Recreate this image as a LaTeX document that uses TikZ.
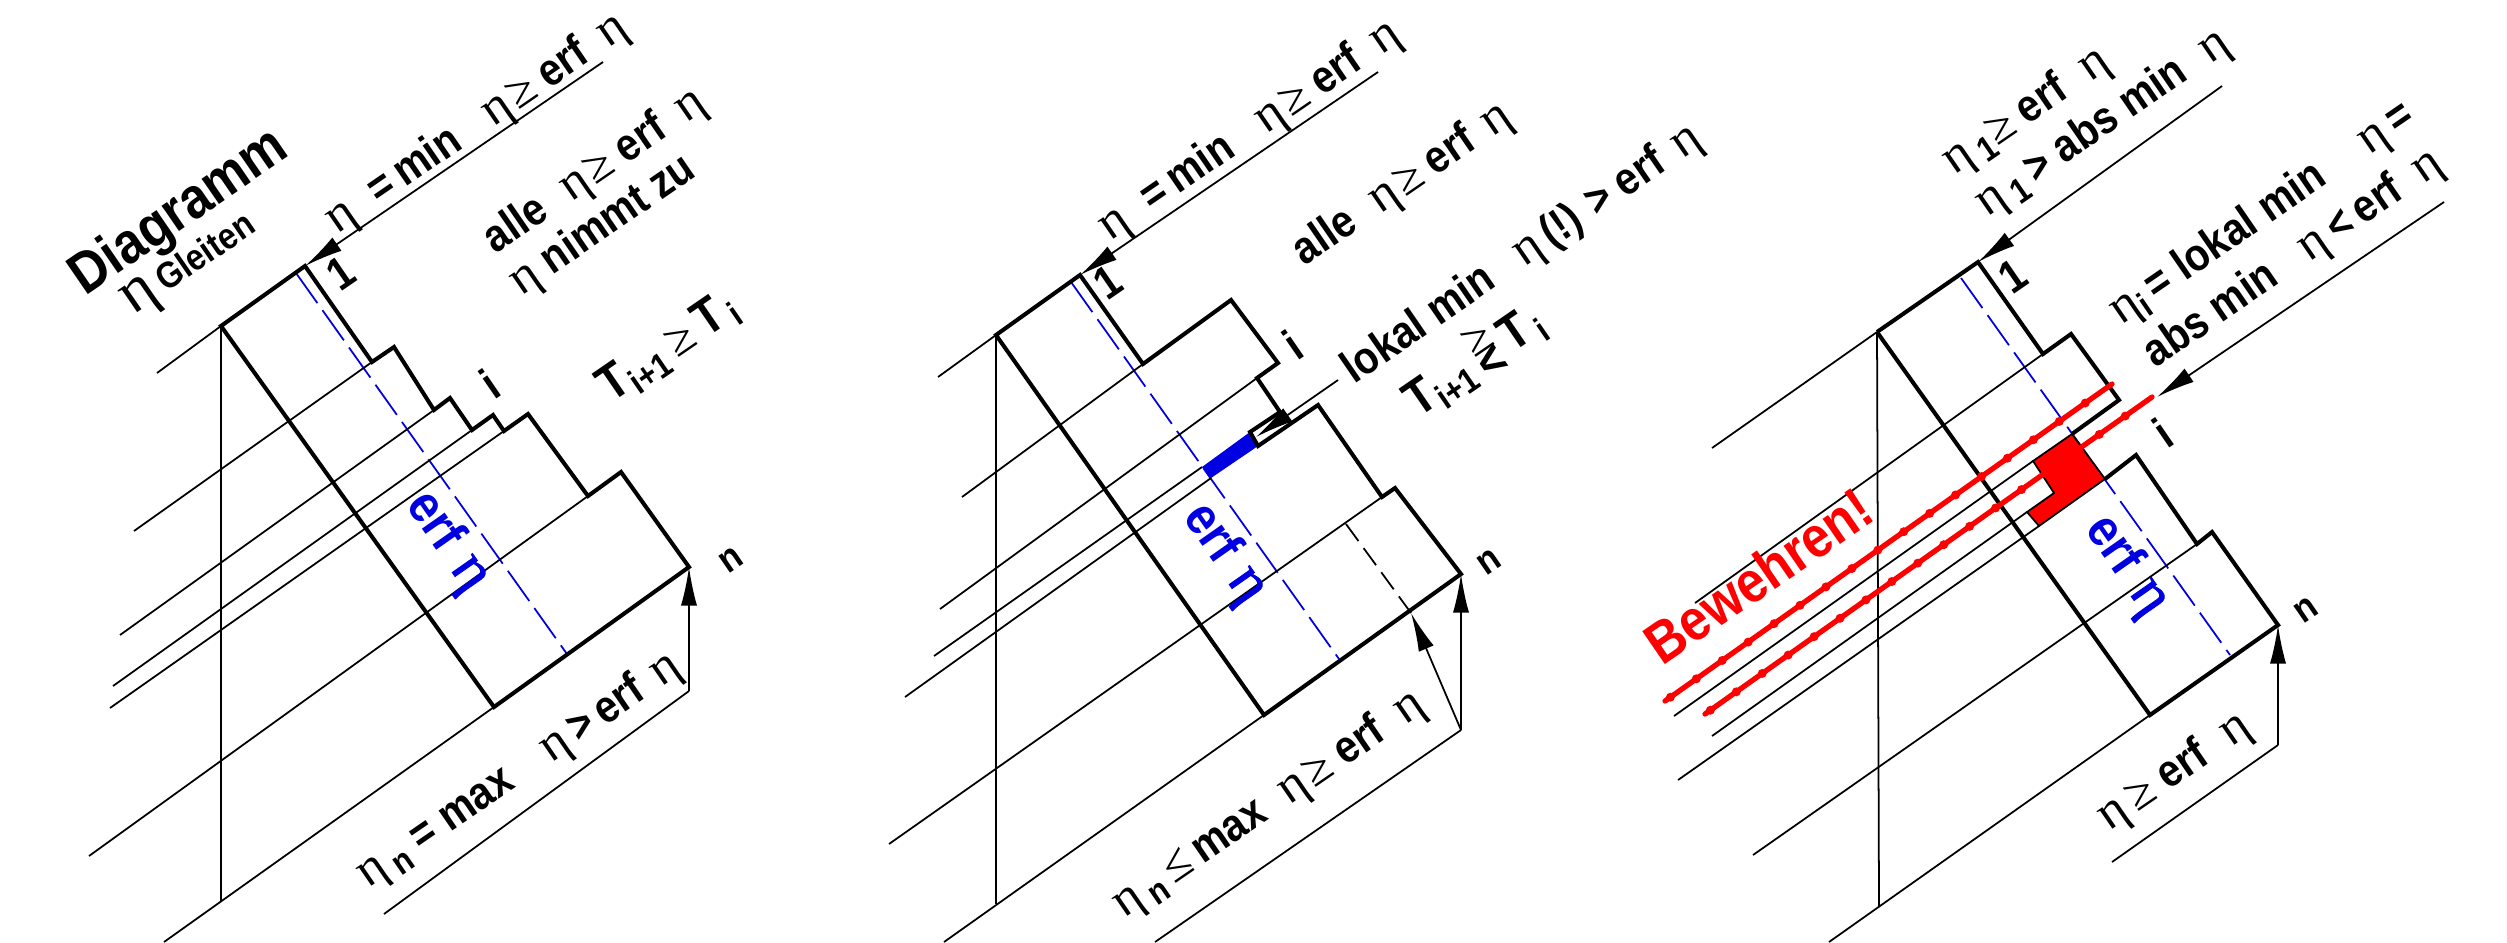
\documentclass[tikz,border=0pt]{standalone}
\usepackage{fontspec}
\setmainfont[FakeStretch=0.88]{Liberation Sans}
\newfontfamily\etafont{Liberation Serif}
\newfontfamily\etbold[FakeBold=1.6]{Liberation Serif}
\usetikzlibrary{arrows.meta,calc}
\definecolor{rebar}{HTML}{FF0000}
\definecolor{need}{HTML}{0000E0}
\newcommand{\et}{{\etafont\mdseries\fontsize{14.5}{14.5}\selectfont η}}
\newcommand{\etg}{{\etafont\mdseries\fontsize{18}{18}\selectfont η}}
\newcommand{\etb}{{\etbold\mdseries\fontsize{17}{17}\selectfont η}}
\newcommand{\gee}{{\etafont\mdseries\fontsize{14}{14}\selectfont ≥}}
\newcommand{\lee}{{\etafont\mdseries\fontsize{14}{14}\selectfont ≤}}
\newcommand{\gl}{\rlap{\raisebox{5pt}{\gee}}\raisebox{-3pt}{<}}
\newcommand{\sm}[1]{\raisebox{-2.5pt}{\fontsize{10}{10}\selectfont #1}}

\begin{document}
\begin{tikzpicture}[
  x=0.1mm,y=-0.1mm,>={Latex[length=11pt,width=4.6pt]},
  lbl/.style={font=\fontsize{13}{13}\bfseries\selectfont, rotate=34.5, anchor=base west, inner sep=0pt},
  big/.style={lbl, font=\fontsize{16.5}{16.5}\bfseries\selectfont},
  erf/.style={font=\fontsize{15}{15}\bfseries\selectfont, text=need, rotate=-55, anchor=base west, inner sep=0pt},
  mrk/.style={lbl, anchor=center},
  edge/.style={line width=1.15pt, line join=miter},
  ext/.style={line width=0.5pt},
  req/.style={draw=need, line width=0.5pt, dash pattern=on 10.5pt off 2.5pt},
  bar/.style={draw=rebar, line width=1.5pt, line cap=round},
]
\useasboundingbox (0,0) rectangle (2507,942);
% first diagram
\coordinate (a1) at (221,326);
\coordinate (b1) at (305,266);
\coordinate (c1) at (494,707);
\coordinate (d1) at (689,567);
\coordinate (sa) at (372,362);
\coordinate (sb) at (434,410);
\coordinate (sc) at (472,430);
\coordinate (sd) at (504,431);
\coordinate (se) at (588,496);
\coordinate (e1) at (689,691);
\coordinate (t1) at (603,62);
\draw[req] (296,273) -- (567,654);
\draw[edge] (a1) -- (b1) -- (sa) -- (394,347) -- (sb) -- (450,398) -- (sc) -- (493,415) -- (sd)
  -- (528,414) -- (se) -- (621,472) -- (d1) -- (c1) -- cycle;
\foreach \p/\q in {a1/{157,373},sa/{134,531},sb/{120,635},sc/{113,686},sd/{110,708},se/{89,856},c1/{164,942}}
  \draw[ext] (\p) -- (\q);
\draw[ext] (a1) -- (221,901);
\draw[ext] (384,914) -- (e1);
\draw[ext,->] (e1) -- (d1);
\draw[ext,->] (t1) -- (b1);
\node[big] (title) at (85,297) {Diagramm};
\node[lbl] (gleiten) at (133,316) {\etg\hspace{2pt}{\fontsize{10.5}{10.5}\selectfont Gleiten}};
\node[lbl] (top1) at (337,235) {\et\hspace{7pt}=\,min\hspace{10pt}\et\hspace{1pt}\gee\hspace{3pt}erf\hspace{6pt}\et};
\node[lbl] (all1) at (495,255) {alle\hspace{7pt}\et\hspace{1pt}\gee\hspace{3pt}erf\hspace{6pt}\et};
\node[lbl] (grow1) at (521,297) {\et\ nimmt zu};
\node[lbl] (step1) at (611,404) {\fontsize{14.5}{14.5}\selectfont T\sm{i+1}\,\gee\,T\sm{\,i}};
\node[lbl] (bot1) at (368,889) {\et\,\sm{n} = max\hspace{12pt}\et\,>\,erf\hspace{5pt}\et};
\node[mrk] (one1) at (341,273) {1};
\node[mrk] (i1) at (490,384) {i};
\node[mrk,font=\fontsize{11}{11}\bfseries\selectfont] (n1) at (731,560) {n};
\node[erf] (erf1) at (405,505) {erf\hspace{5pt}\etb};
% second diagram
\coordinate (a2) at (996,335);
\coordinate (b2) at (1080,275);
\coordinate (c2) at (1264,715);
\coordinate (d2) at (1461,574);
\coordinate (ua) at (1143,364);
\coordinate (ub) at (1257,378);
\coordinate (uc) at (1250,432);
\coordinate (ud) at (1258,446);
\coordinate (ue) at (1202,467);
\coordinate (uf) at (1211,478);
\coordinate (ug) at (1382,497);
\coordinate (e2) at (1461,730);
\coordinate (f2) at (1411,613);
\coordinate (t2) at (1378,72);
\coordinate (t3) at (1338,380);
\coordinate (t4) at (1256,437);
\draw[req] (1071,282) -- (1339,659);
\fill[need] (uc) -- (ud) -- (uf) -- (ue) -- cycle;
\draw[edge] (a2) -- (b2) -- (ua) -- (1231,300) -- (1278,363) -- (ub) -- (1280,412) -- (uc) -- (ud)
  -- (1318,405) -- (ug) -- (1395,488) -- (d2) -- (c2) -- cycle;
\foreach \p/\q in {a2/{938,377},ua/{962,497},ub/{940,609},ue/{934,656},uf/{905,697},ug/{889,844},c2/{944,942}}
  \draw[ext] (\p) -- (\q);
\draw[ext] (a2) -- (996,904);
\draw[ext] (1155,942) -- (e2);
\draw[ext,->] (e2) -- (d2);
\draw[ext,->] (e2) -- (f2);
\draw[ext,->] (t2) -- (b2);
\draw[ext,->] (t3) -- (t4);
\draw[ext,dash pattern=on 6pt off 2.5pt] (1346,524) -- (f2);
\node[lbl] (top2) at (1110,242) {\et\hspace{7pt}=\,min\hspace{10pt}\et\hspace{1pt}\gee\hspace{3pt}erf\hspace{6pt}\et};
\node[lbl] (all2) at (1304,267) {alle\hspace{7pt}\et\hspace{1pt}\gee\hspace{3pt}erf\hspace{5pt}\et};
\node[lbl] (loc2) at (1354,385) {lokal min\hspace{9pt}\et\hspace{2pt}(!) > erf\hspace{5pt}\et};
\node[lbl] (step2) at (1418,419) {\fontsize{14.5}{14.5}\selectfont T\sm{i+1}\,\gl\,T\sm{\,i}};
\node[lbl] (bot2) at (1124,919) {\et\,\sm{n}\,\lee\,max\hspace{7pt}\et\hspace{1pt}\gee\hspace{3pt}erf\hspace{6pt}\et};
\node[mrk] (one2) at (1108,282) {1};
\node[mrk] (i2) at (1293,345) {i};
\node[mrk,font=\fontsize{11}{11}\bfseries\selectfont] (n2) at (1489,562) {n};
\node[erf] (erf2) at (1182,517) {erf\hspace{5pt}\etb};
% third diagram
\coordinate (a3) at (1877,332);
\coordinate (b3) at (1978,262);
\coordinate (c3) at (2150,715);
\coordinate (d3) at (2278,625);
\coordinate (va) at (2043,354);
\coordinate (vb) at (2033,461);
\coordinate (vc) at (2027,512);
\coordinate (vd) at (2039,526);
\coordinate (ve) at (2105,479);
\coordinate (vf) at (2197,544);
\coordinate (vg) at (2072,434);
\coordinate (vh) at (2054,493);
\coordinate (e3) at (2278,745);
\coordinate (t5) at (2222,86);
\coordinate (t6) at (2444,202);
\coordinate (t7) at (2157,397);
\coordinate (ra) at (2112,384);
\coordinate (rb) at (1665,701);
\coordinate (rc) at (2152,397);
\coordinate (rd) at (1705,714);
\draw[req] (1961,278) -- (2230,655);
\draw[edge] (a3) -- (b3) -- (va) -- (2071,334) -- (2119,400) -- (vg);
\draw[edge] (ve) -- (2136,455) -- (vf) -- (2212,532) -- (d3) -- (c3) -- (a3);
\foreach \p/\q in {a3/{1712,448},va/{1695,603},vb/{1674,716},vc/{1712,736},vd/{1678,780},vf/{1753,855},c3/{1829,942}}
  \draw[ext] (\p) -- (\q);
\draw[ext] (a3) -- (1879,907);
\draw[ext] (2112,862) -- (e3);
\draw[ext,->] (e3) -- (d3);
\draw[ext,->] (t5) -- (b3);
\draw[ext,->] (t6) -- (t7);
\draw[draw=black,line width=0.5pt,fill=rebar] (vg) -- (ve) -- (vd) -- (vc) -- (vh) -- (vb) -- cycle;
\draw[bar] (ra) -- (rb);
\draw[bar] (rc) -- (rd);
\foreach \t in {0.06,0.118,...,1} {
  \fill[rebar] ($(ra)!\t!(rb)$) circle (4.5);
  \fill[rebar] ($(rc)!\t!(rd)$) circle (4.5);
}
\node[lbl] (top3) at (1954,176) {\et\,\sm{1}\gee\hspace{3pt}erf\hspace{7pt}\et};
\node[lbl] (abs3) at (1987,218) {\et\,\sm{1}\,> abs min\hspace{7pt}\et};
\node[lbl] (loc3) at (2121,326) {\et\sm{i}\,= lokal min\hspace{14pt}\et\,=};
\node[lbl] (min3) at (2155,369) {abs min\hspace{10pt}\et\,<\,erf\hspace{6pt}\et};
\node[lbl] (bot3) at (2109,832) {\et\,\gee\hspace{3pt}erf\hspace{7pt}\et};
\node[mrk] (one3) at (2013,276) {1};
\node[mrk] (i3) at (2163,433) {i};
\node[mrk,font=\fontsize{11}{11}\bfseries\selectfont] (n3) at (2306,610) {n};
\node[erf] (erf3) at (2084,529) {erf\hspace{5pt}\etb};
\node[big,text=rebar] (rein) at (1662,667) {Bewehren!};
\end{tikzpicture}
\end{document}
